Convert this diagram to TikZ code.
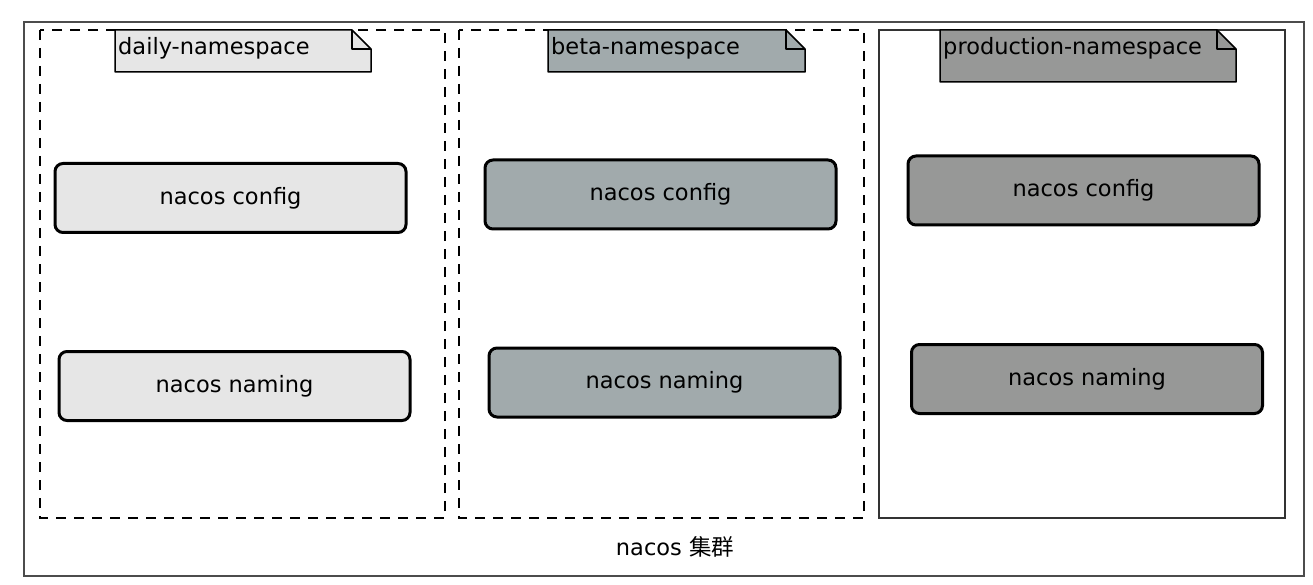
\documentclass[tikz,border=0pt]{standalone}
\usepackage{fontspec}
\setmainfont{DejaVu Sans}
\newfontfamily\cjk{Noto Sans CJK SC}
\definecolor{dailygray}{HTML}{E6E6E6}
\definecolor{betagray}{HTML}{A1AAAC}
\definecolor{prodgray}{HTML}{979897}
\begin{document}
\begin{tikzpicture}[x=1pt,y=-1pt,font=\fontsize{22.5}{26}\selectfont,
  svc/.style={draw,line width=3pt,rounded corners=8pt,minimum width=351pt,
    minimum height=69pt,inner sep=0pt},
  nsdash/.style={line width=1.8pt,dash pattern=on 10pt off 8pt},
  nssolid/.style={line width=1.8pt,black!80}]
  \useasboundingbox (0,0) rectangle (1313,585);
  \draw[line width=2pt,black!70] (24,22) rectangle (1304,576);
  \node (cluster) at (675,547) {nacos {\cjk 集群}};
  % one column per namespace
  \foreach \ns/\fa/\fb/\na/\nb/\nh/\cx/\cy/\mx/\my/\col/\fst in {
      daily/40/445/115/371/72/230.5/198/234.5/386/dailygray/nsdash,
      beta/459/864/548/805/72/660.5/194.5/664.5/382.5/betagray/nsdash,
      production/879/1285/940/1236/82/1083.5/190.5/1087/379/prodgray/nssolid} {
    \draw[\fst] (\fa,30) rectangle (\fb,518);
    \draw[fill=\col,line width=1.5pt,line join=round]
      (\na,30) -- (\nb-19,30) -- (\nb,49) -- (\nb,\nh) -- (\na,\nh) -- cycle;
    \draw[line width=1.5pt,line join=round] (\nb-19,30) -- (\nb-19,49) -- (\nb,49);
    \node[anchor=west,inner sep=0pt] (\ns-label) at (\na+3,48) {\ns-namespace};
    \node[svc,fill=\col] (\ns-config) at (\cx,\cy) {nacos config};
    \node[svc,fill=\col] (\ns-naming) at (\mx,\my) {nacos naming};
  }
\end{tikzpicture}
\end{document}
